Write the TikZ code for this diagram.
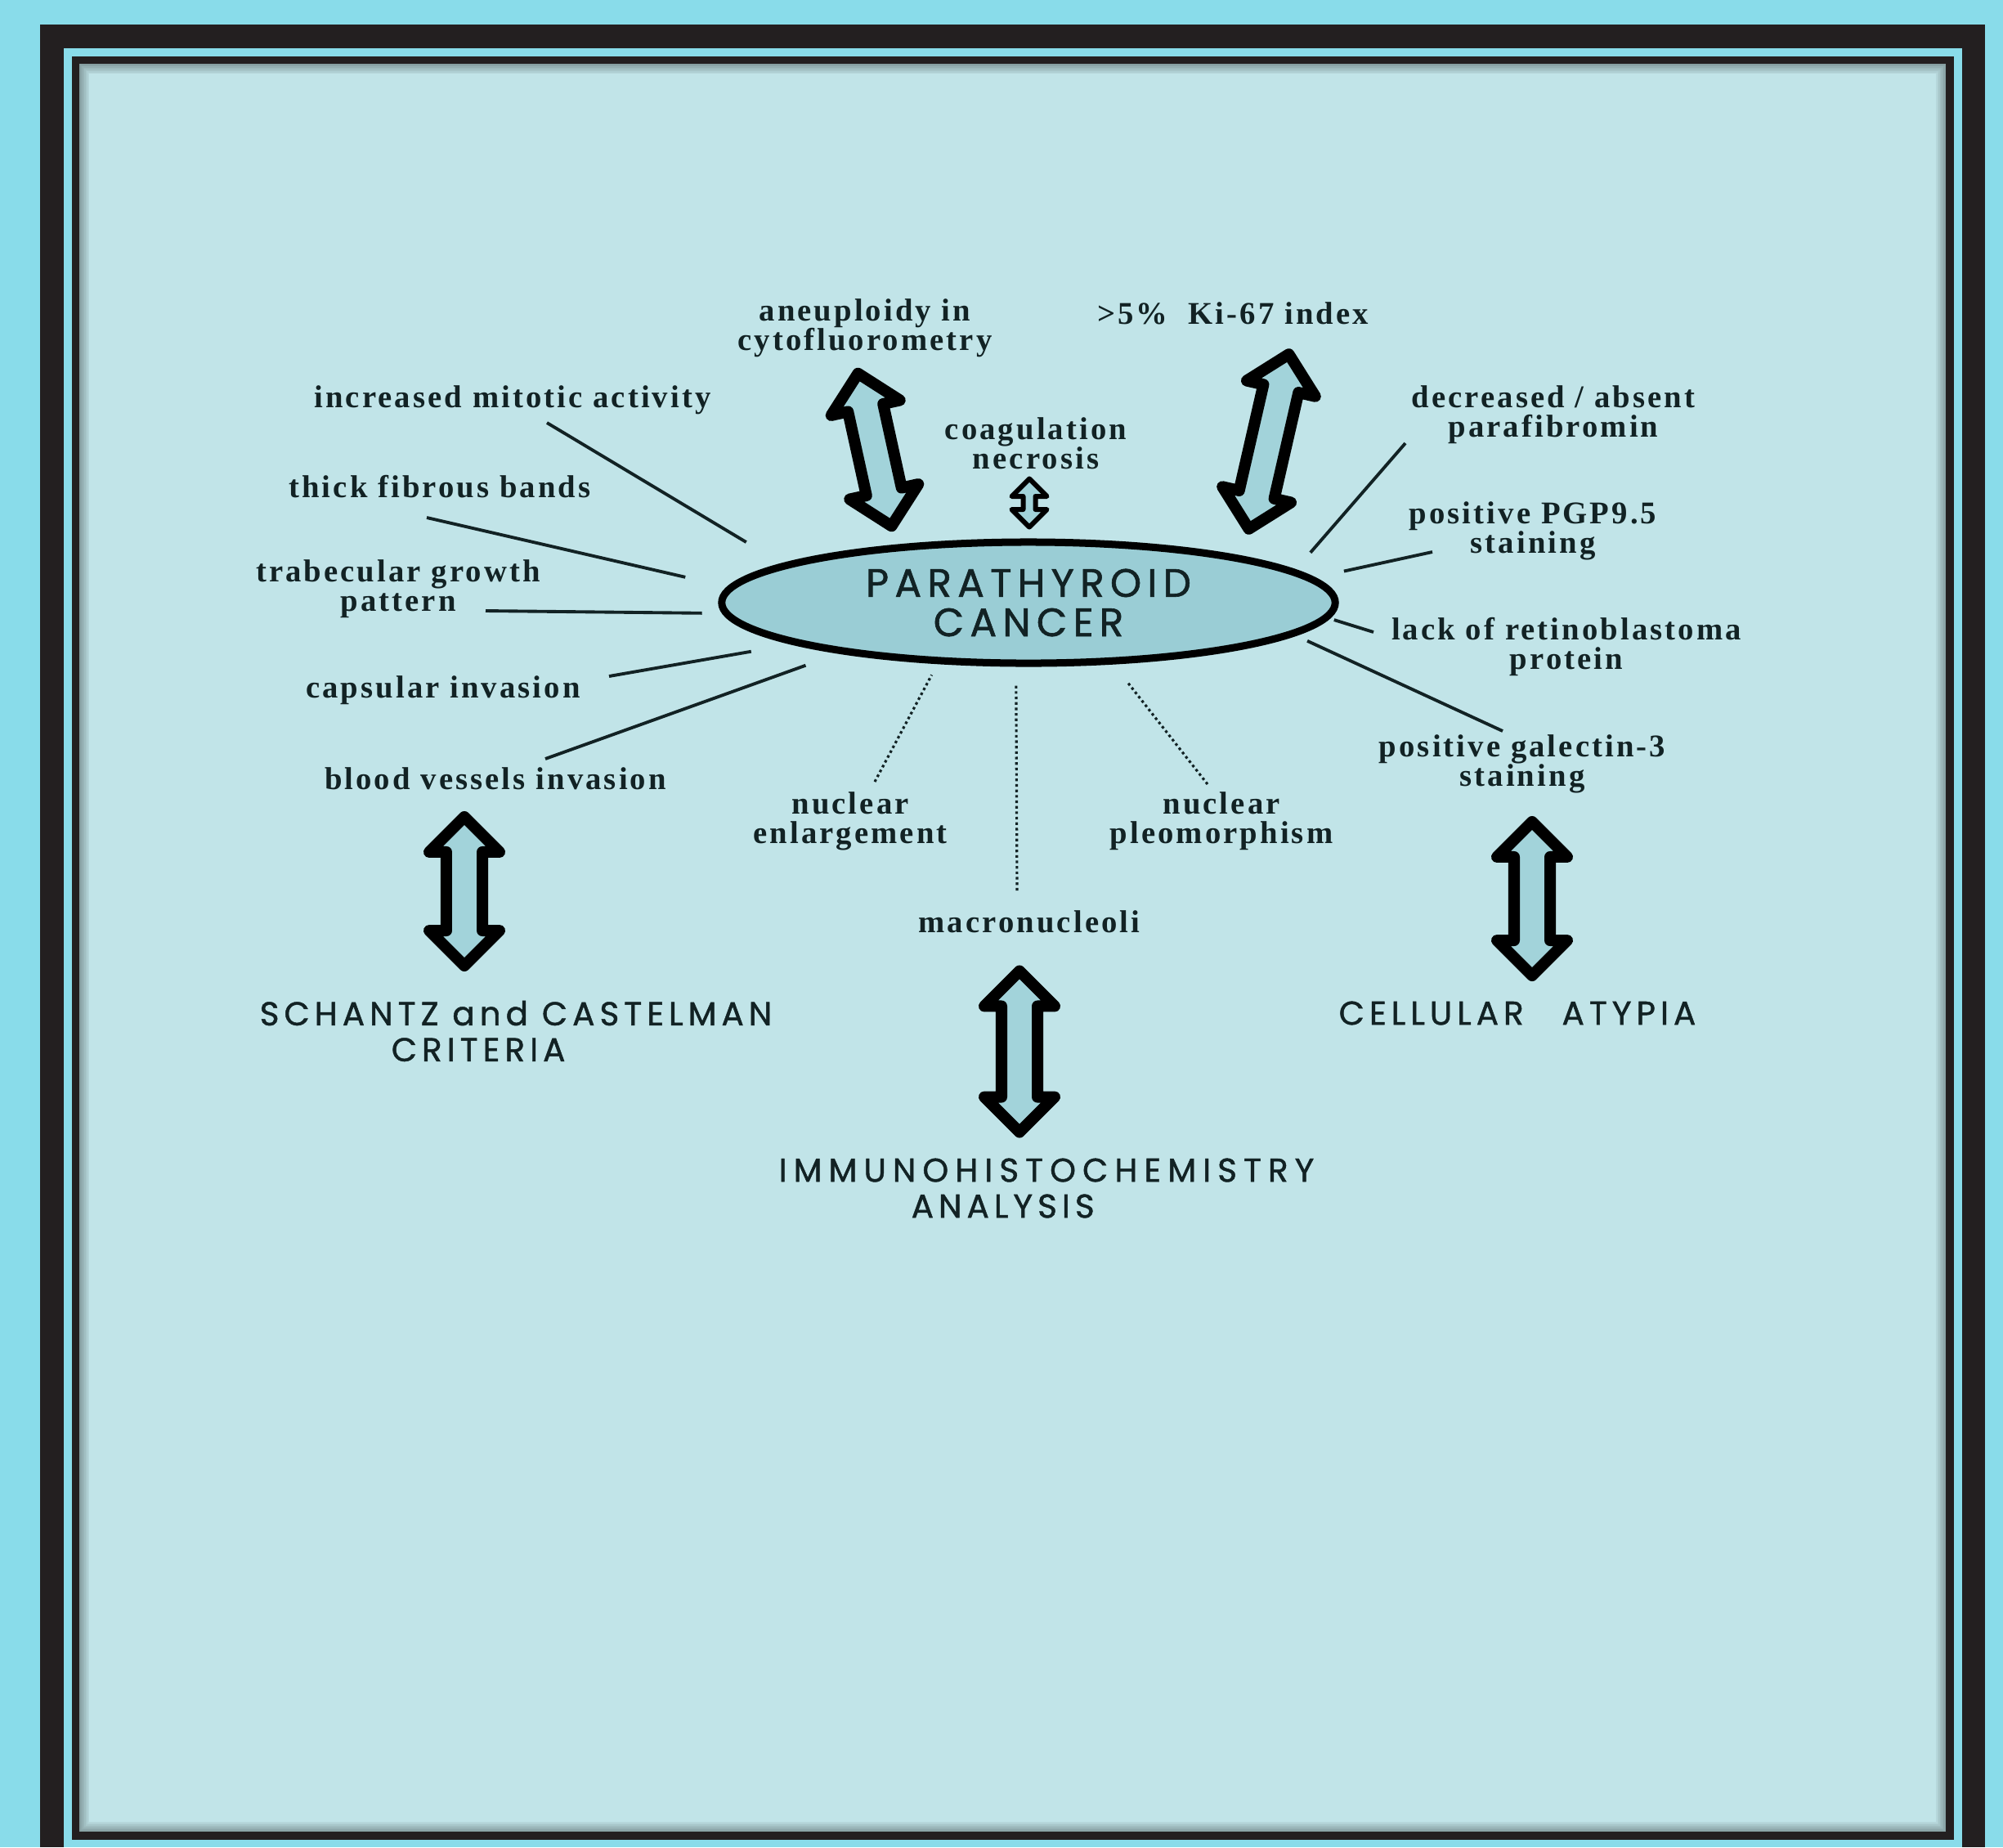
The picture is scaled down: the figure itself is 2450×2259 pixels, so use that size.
\documentclass[tikz,border=0pt]{standalone}
\usepackage{fontspec}
\setmainfont{Liberation Serif}
\newfontfamily\labfont[LetterSpace=8]{Liberation Serif}
\newfontfamily\capfont[LetterSpace=15,FakeBold=1.2]{Poppins}
\usetikzlibrary{shapes.geometric,shapes.arrows}

\definecolor{sky}{HTML}{89DCEA}
\definecolor{framek}{HTML}{231F20}
\definecolor{panel}{HTML}{C1E4E8}
\definecolor{cancerfill}{HTML}{9ACDD5}
\definecolor{arrowfill}{HTML}{A2D3DA}
\definecolor{ink}{HTML}{122224}

\begin{document}
\begin{tikzpicture}[x=0.01cm,y=-0.01cm]
\tikzstyle{lab} = [text=ink,align=center,inner sep=0pt,font=\labfont\bfseries\fontsize{11}{10.3}\selectfont]
\tikzstyle{caps} = [text=ink,inner sep=0pt,font=\capfont\fontsize{11.5}{12.5}\selectfont]
\tikzstyle{spoke} = [draw=ink,line width=1.1pt]
\tikzstyle{dotspoke} = [draw=ink,line width=0.9pt,densely dotted]
\tikzstyle{bigarrow} = [double arrow,draw=black,fill=arrowfill,line width=0.14cm,line join=round,inner xsep=0pt,inner ysep=0.15cm,minimum width=0.84cm,double arrow head extend=0.21cm,double arrow tip angle=90]
\tikzstyle{smallarrow} = [bigarrow,line width=0.06cm,inner ysep=0.045cm,minimum width=0.4cm,double arrow head extend=0.14cm]

\useasboundingbox (0,0) rectangle (2450,2259);

% frame
\fill[sky] (0,0) rectangle (2450,2259);
\fill[framek] (49,30) rectangle (2428,2259);
\fill[sky] (78,59) rectangle (2400,2259);
\fill[framek] (88,69) rectangle (2390,2250);
\fill[panel] (97,78) rectangle (2380,2240);
\foreach \i in {0,...,7}
  \draw[black,opacity=0.3-0.035*\i,line width=0.015cm] ({97.75+1.5*\i},{78.75+1.5*\i}) rectangle ({2379.25-1.5*\i},{2239.25-1.5*\i});

% centre
\node[ellipse,draw=black,line width=0.09cm,fill=cancerfill,minimum width=7.5cm,minimum height=1.48cm,inner sep=0pt,align=center,text=ink,font=\capfont\fontsize{13.8}{13.7}\selectfont] (cancer) at (1258,737) {PARATHYROID\\CANCER};

\node[lab] (aneu) at (1058,401) {aneuploidy in\\cytofluorometry};
\node[lab] (ki67) at (1508,383) {>5\%\ \ Ki-67 index};
\node[lab] (coag) at (1267,542) {coagulation\\necrosis};
\node[lab] (mito) at (627,489) {increased mitotic activity};
\node[lab] (fibro) at (538,595) {thick fibrous bands};
\node[lab] (trab) at (487,720) {trabecular growth\\pattern};
\node[lab] (capsu) at (542,844) {capsular invasion};
\node[lab] (blood) at (606,952) {blood vessels invasion};
\node[lab] (decr) at (1900,507) {decreased / absent\\parafibromin};
\node[lab] (pgp) at (1875,649) {positive PGP9.5\\staining};
\node[lab] (retino) at (1916,791) {lack of retinoblastoma\\protein};
\node[lab] (galec) at (1862,934) {positive galectin-3\\staining};
\node[lab] (enlarge) at (1040,1004) {nuclear\\enlargement};
\node[lab] (pleo) at (1494,1004) {nuclear\\pleomorphism};
\node[lab] (macro) at (1259,1127) {macronucleoli};

\node[caps,align=left] (schantz) at (631,1261) {SCHANTZ and CASTELMAN\\\hspace*{1.61cm}CRITERIA};
\node[caps] (cellular) at (1856,1239) {CELLULAR\hspace{0.3cm} ATYPIA};
\node[caps,align=left] (immuno) at (1280,1453) {\addfontfeature{LetterSpace=20}IMMUNOHISTOCHEMISTRY\\\hspace*{1.62cm}ANALYSIS};

% big arrows
\node[bigarrow,rotate=102.4,minimum height=1.91cm] (a1) at (1070,550) {};
\node[bigarrow,rotate=77.1,minimum height=2.19cm] (a2) at (1552,540) {};
\node[smallarrow,rotate=90,minimum height=0.59cm] (a3) at (1259,615) {};
\node[bigarrow,rotate=90,minimum height=1.82cm] (a4) at (568,1090) {};
\node[bigarrow,rotate=90,minimum height=1.97cm] (a5) at (1247,1286) {};
\node[bigarrow,rotate=90,minimum height=1.88cm] (a6) at (1874,1099) {};

% spokes
\draw[spoke,shorten >=0.51cm] ([shift={(42,28)}]mito.center) -- (cancer.171);
\draw[spoke,shorten >=0.53cm] ([shift={(-16,38)}]fibro.center) -- (cancer.177);
\draw[spoke,shorten >=0.25cm] ([shift={(107,27)}]trab.center) -- (cancer.182);
\draw[spoke,shorten >=0.51cm] ([shift={(203,-17)}]capsu.center) -- (cancer.190);
\draw[spoke,shorten >=0.43cm] ([shift={(61,-24)}]blood.center) -- (cancer.195);
\draw[spoke,shorten >=0.28cm] ([shift={(-181,35)}]decr.center) -- (cancer.7);
\draw[spoke,shorten >=0.37cm] ([shift={(-123,26)}]pgp.center) -- (cancer.5);
\draw[spoke,shorten >=0.06cm] ([shift={(-236,-18)}]retino.center) -- (cancer.-3.4);
\draw[spoke,shorten >=0.16cm] ([shift={(-24,-40)}]galec.center) -- (cancer.-7.4);
\draw[dotspoke,shorten >=0.15cm] ([shift={(30,-48)}]enlarge.center) -- (cancer.214);
\draw[dotspoke,shorten >=0.22cm] ([shift={(-15,-38)}]macro.center) -- (cancer.259.3);
\draw[dotspoke,shorten >=0.27cm] ([shift={(-17,-45)}]pleo.center) -- (cancer.324.75);
\end{tikzpicture}
\end{document}
